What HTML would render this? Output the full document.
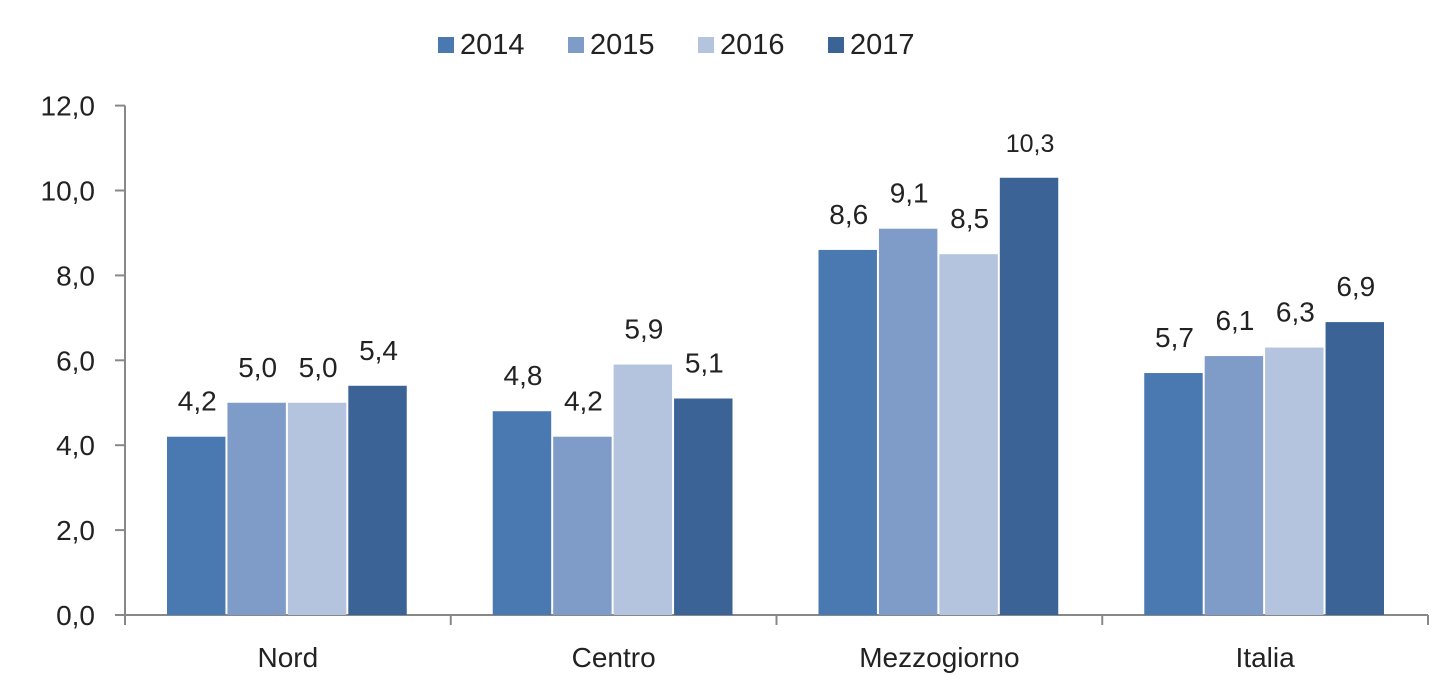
<!DOCTYPE html>
<html><head><meta charset="utf-8"><style>
body{margin:0;background:#fff;}
svg text{font-family:"Liberation Sans",Arial,sans-serif;fill:#222;}
</style></head><body>
<svg width="1438" height="694" viewBox="0 0 1438 694">
<g id="legend"></g>
<g id="axes"></g>
<g id="bars"></g>
</svg>
<script>
const categories = ["Nord","Centro","Mezzogiorno","Italia"];
const seriesNames = ["2014","2015","2016","2017"];
const s2014 = [4.2,4.8,8.6,5.7];
const s2015 = [5.0,4.2,9.1,6.1];
const s2016 = [5.0,5.9,8.5,6.3];
const s2017 = [5.4,5.1,10.3,6.9];
const yTicks = [0,2,4,6,8,10,12];
const yTickLabels = ["0,0","2,0","4,0","6,0","8,0","10,0","12,0"];

const series = [s2014,s2015,s2016,s2017];
const colors = ["#4a78b0","#7f9cc8","#b4c3de","#3b6395"];
const NS="http://www.w3.org/2000/svg";
const x0=125, x1=1428, y0=615, pxPerUnit=42.45;
const catW=(x1-x0)/categories.length;
function yScale(v){return y0-v*pxPerUnit;}
function catX(i){return x0+i*catW;}
function mk(tag,attrs,parent){const e=document.createElementNS(NS,tag);for(const k in attrs)e.setAttribute(k,attrs[k]);parent.appendChild(e);return e;}
const axes=document.getElementById('axes'),bars=document.getElementById('bars'),legend=document.getElementById('legend');

let yl=mk('line',{x1:x0,y1:yScale(12),x2:x0,y2:y0+10,stroke:'#888','stroke-width':2},axes);


let xl=mk('line',{x1:x0-10,y1:y0,x2:x1,y2:y0,stroke:'#888','stroke-width':2},axes);


yTicks.forEach((v,i)=>{
  const y=yScale(v);
  let t=mk('line',{x1:x0-10,y1:y,x2:x0,y2:y,stroke:'#888','stroke-width':2},axes);
  
  
  let lb=mk('text',{x:x0-30,y:y+10,'text-anchor':'end','font-size':28},axes);
  lb.textContent=yTickLabels[i];
  
  
});
categories.forEach((c,i)=>{
  let t=mk('line',{x1:catX(i+1),y1:y0,x2:catX(i+1),y2:y0+10,stroke:'#888','stroke-width':2},axes);
  
  
  let lb=mk('text',{x:catX(i)+catW/2,y:667,'text-anchor':'middle','font-size':28},axes);
  lb.textContent=c;
  
  
});
const margin=42, barStep=(catW-2*margin)/4;
categories.forEach((c,i)=>{
  series.forEach((s,j)=>{
    const v=s[i];
    const bx=catX(i)+margin+j*barStep;
    const r=mk('rect',{x:bx,y:yScale(v),width:barStep-2,height:y0-yScale(v),fill:colors[j]},bars);
    
    
    const t=mk('text',{x:bx+barStep/2,y:yScale(v)-26,'text-anchor':'middle','font-size':v>=10?25:28},bars);
    t.textContent=v.toFixed(1).replace('.',',');
    
    
  });
});
const legX=[438,568,698,828];
seriesNames.forEach((n,j)=>{
  const g=mk('g',{},legend);
  
  
  mk('rect',{x:legX[j],y:37,width:16,height:16,fill:colors[j]},g);
  const t=mk('text',{x:legX[j]+22,y:54,'font-size':29},g);
  t.textContent=n;
});
</script>
</body></html>
